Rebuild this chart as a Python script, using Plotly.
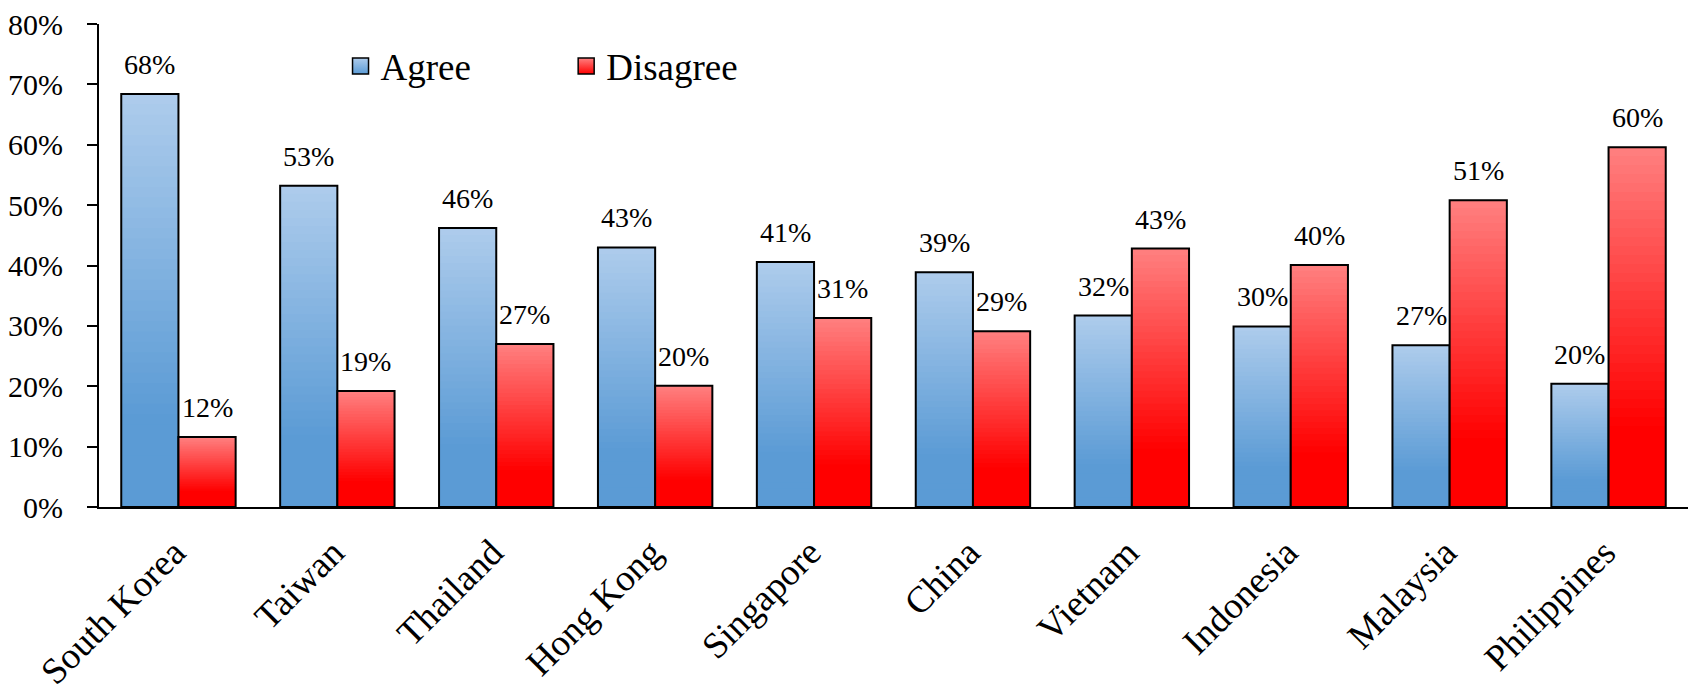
import plotly.graph_objects as go
import numpy as np

countries = ["South Korea", "Taiwan", "Thailand", "Hong Kong", "Singapore",
             "China", "Vietnam", "Indonesia", "Malaysia", "Philippines"]
agree = [68.4, 53.2, 46.2, 43.0, 40.6, 38.9, 31.7, 29.9, 26.8, 20.4]
disagree = [11.6, 19.2, 27.0, 20.1, 31.3, 29.1, 42.8, 40.1, 50.8, 59.6]

FONT = "Liberation Serif"
N = 40
W = 0.36
STOP = 0.78
ML, MR = 99, 6
PLOT_W = 1694 - ML - MR
CAT_PX = PLOT_W / len(countries)


def grad(top, bottom, frac_from_top):
    t = min(frac_from_top / STOP, 1.0)
    c = [round(a + (b - a) * t) for a, b in zip(top, bottom)]
    return f"rgb({c[0]},{c[1]},{c[2]})"


series = [
    ("Agree", agree, -W, (174, 204, 236), (91, 155, 213), "legend"),
    ("Disagree", disagree, 0.0, (255, 128, 128), (255, 0, 0), "legend2"),
]

fig = go.Figure()
annotations = []
for name, vals, off, top, bot, leg in series:
    v = np.array(vals, dtype=float)
    for i in range(N):
        frac_top = 1 - (i + 0.5) / N
        fig.add_bar(x=countries, y=v * (1 - i / N), base=v * i / N,
                    width=W, offset=off,
                    marker=dict(color=grad(top, bot, frac_top), line=dict(width=0)),
                    showlegend=False, hoverinfo="skip")
    fig.add_bar(x=countries, y=v, width=W, offset=off, name=name,
                marker=dict(color="rgba(0,0,0,0)", line=dict(color="black", width=2)),
                showlegend=False)
    # legend entry
    fig.add_scatter(x=[None], y=[None], mode="markers", name=name, legend=leg,
                    marker=dict(symbol="square", size=20, color=grad(top, bot, 0.0),
                                gradient=dict(type="vertical", color=grad(top, bot, 1.0)),
                                line=dict(color="black", width=1.5)))
    xs = (off + W / 2) * CAT_PX
    for c, val in zip(countries, vals):
        annotations.append(dict(x=c, y=val, xref="x", yref="y", text=f"{val:.0f}%",
                                showarrow=False, yanchor="bottom", xshift=xs, yshift=12,
                                font=dict(family=FONT, size=28, color="black")))

legend_common = dict(orientation="h", yanchor="middle", y=0.912, xanchor="left",
                     font=dict(family=FONT, size=37, color="black"),
                     itemsizing="trace",
                     bgcolor="rgba(0,0,0,0)")
fig.update_layout(
    width=1694, height=700,
    margin=dict(l=ML, r=MR, t=24, b=193),
    paper_bgcolor="white", plot_bgcolor="white",
    barmode="overlay",
    font=dict(family=FONT, color="black"),
    legend=dict(x=0.152, **legend_common),
    legend2=dict(x=0.294, **legend_common),
    annotations=annotations,
    xaxis=dict(showline=True, linecolor="black", linewidth=2, ticks="",
               tickangle=-45, tickfont=dict(family=FONT, size=37, color="black"),
               showgrid=False, automargin=False,
               ticklabelstandoff=7, ticklabelshift=-4),
    yaxis=dict(range=[0, 80], dtick=10, ticksuffix="%", showline=True,
               linecolor="black", linewidth=2, ticks="outside", ticklen=10,
               tickwidth=2, tickcolor="black", showgrid=False, zeroline=False,
               tickfont=dict(family=FONT, size=30, color="black"),
               ticklabelstandoff=18, automargin=False),
)

fig.write_html("out.html", config={"displayModeBar": False},
               post_script="document.body.style.margin='0';document.body.style.padding='0';")
